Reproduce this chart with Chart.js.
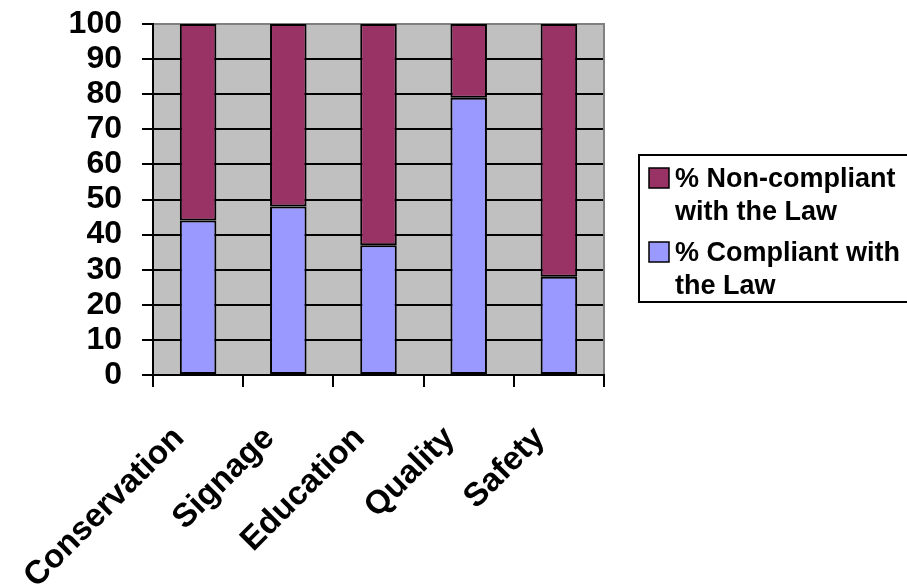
<!DOCTYPE html>
<html>
<head>
<meta charset="utf-8">
<script src="https://cdn.jsdelivr.net/npm/chart.js@4.4.1/dist/chart.umd.min.js"></script>
<style>
  html, body { margin: 0; padding: 0; background: #ffffff; }
  #wrap { width: 907px; height: 588px; }
</style>
</head>
<body>
<div id="wrap"><canvas id="chart" width="907" height="588"></canvas></div>
<script>
// Survey areas and compliance shares (percent)
const categories = ['Conservation', 'Signage', 'Education', 'Quality', 'Safety'];
const compliantPct = [44, 48, 37, 79, 28];
const nonCompliantPct = [56, 52, 63, 21, 72];
const compliantLegend = ['% Compliant with', 'the Law'];
const nonCompliantLegend = ['% Non-compliant', 'with the Law'];
const yMin = 0;
const yMax = 100;
const yStep = 10;

const FONT = '"Liberation Sans", Arial, Helvetica, sans-serif';

// Grey plot background and its frame
const plotBackground = {
  id: 'plotBackground',
  beforeDraw(chart) {
    const { ctx, chartArea: a } = chart;
    ctx.save();
    ctx.fillStyle = '#C0C0C0';
    ctx.fillRect(a.left, a.top, a.right - a.left, a.bottom - a.top);
    ctx.restore();
  },
  beforeDatasetsDraw(chart) {
    const { ctx, chartArea: a } = chart;
    ctx.save();
    ctx.strokeStyle = '#808080';
    ctx.lineWidth = 2;
    ctx.beginPath();
    ctx.moveTo(a.left + 1, a.top);
    ctx.lineTo(a.right, a.top);
    ctx.lineTo(a.right, a.bottom - 1);
    ctx.stroke();
    ctx.restore();
  }
};

// Boxed legend with wrapped entries, top entry = top of the stack
const boxedLegend = {
  id: 'boxedLegend',
  afterDraw(chart) {
    const { ctx } = chart;
    const box = { x: 639, y: 155, w: 300, h: 147 };
    ctx.save();
    ctx.strokeStyle = '#000000';
    ctx.lineWidth = 2;
    ctx.strokeRect(box.x, box.y, box.w, box.h);
    ctx.font = 'bold 27px ' + FONT;
    ctx.textBaseline = 'alphabetic';
    ctx.textAlign = 'left';
    const items = chart.data.datasets.slice().reverse();
    let top = box.y + 13;
    items.forEach((ds) => {
      ctx.fillStyle = ds.backgroundColor;
      ctx.fillRect(box.x + 10, top, 20, 20);
      ctx.lineWidth = 1.5;
      ctx.strokeStyle = '#000000';
      ctx.strokeRect(box.x + 10, top, 20, 20);
      ctx.fillStyle = '#000000';
      ds.legendLines.forEach((line, i) => {
        ctx.fillText(line, box.x + 36, top + 19 + i * 32.5);
      });
      top += 74;
    });
    ctx.restore();
  }
};

new Chart(document.getElementById('chart'), {
  type: 'bar',
  data: {
    labels: categories,
    datasets: [
      {
        label: compliantLegend.join(' '),
        legendLines: compliantLegend,
        data: compliantPct,
        backgroundColor: '#9999FF',
        borderColor: '#000000',
        borderWidth: 2,
        borderSkipped: false
      },
      {
        label: nonCompliantLegend.join(' '),
        legendLines: nonCompliantLegend,
        data: nonCompliantPct,
        backgroundColor: '#993366',
        borderColor: '#000000',
        borderWidth: 2,
        borderSkipped: false
      }
    ]
  },
  options: {
    responsive: false,
    animation: false,
    devicePixelRatio: 1,
    layout: { padding: { top: 24, right: 303, bottom: 0, left: 0 } },
    datasets: { bar: { categoryPercentage: 1.0, barPercentage: 0.405 } },
    plugins: {
      legend: { display: false },
      tooltip: { enabled: false },
      title: { display: false }
    },
    scales: {
      x: {
        stacked: true,
        afterFit(scale) {
          scale.height = 213;
          scale.paddingLeft = 0;
          scale.paddingRight = 0;
        },
        grid: {
          display: true,
          offset: true,
          drawOnChartArea: false,
          drawTicks: true,
          tickLength: 12,
          color: '#000000',
          lineWidth: 2
        },
        border: { display: true, color: '#000000', width: 2 },
        ticks: {
          autoSkip: false,
          maxRotation: 45,
          minRotation: 45,
          padding: 32,
          labelOffset: -19,
          color: '#000000',
          font: { family: FONT, size: 33, weight: 'bold' }
        }
      },
      y: {
        stacked: true,
        min: yMin,
        max: yMax,
        afterFit(scale) {
          scale.width = 153;
          scale.paddingTop = 0;
          scale.paddingBottom = 0;
        },
        grid: {
          color: '#000000',
          lineWidth: 2,
          drawTicks: true,
          tickLength: 11
        },
        border: { display: true, color: '#000000', width: 2 },
        ticks: {
          stepSize: yStep,
          autoSkip: false,
          padding: 20,
          color: '#000000',
          font: { family: FONT, size: 32, weight: 'bold' }
        }
      }
    }
  },
  plugins: [plotBackground, boxedLegend]
});
</script>
</body>
</html>
